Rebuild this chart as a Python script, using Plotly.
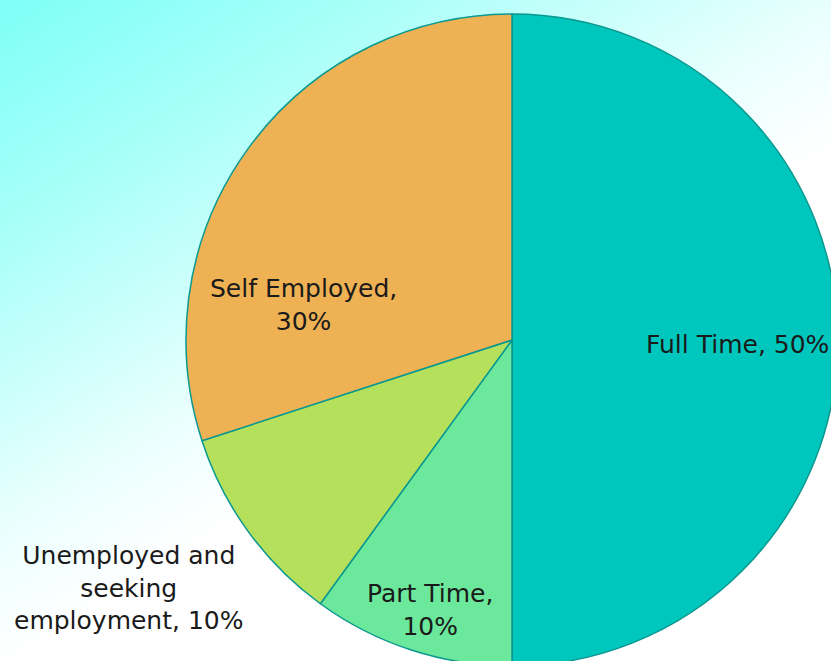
import plotly.graph_objects as go
import base64

# ---- data ----
categories = ["Full Time", "Part Time", "Unemployed and seeking employment", "Self Employed"]
values = [50, 10, 10, 30]
label_lines = [
    ["Full Time, 50%"],
    ["Part Time,", "10%"],
    ["Unemployed and", "seeking", "employment, 10%"],
    ["Self Employed,", "30%"],
]

# ---- styles / layout ----
colors = ["#00C7BD", "#6BE89B", "#B5E05B", "#EEB153"]
border_color = "#0A9890"
W, H = 845, 672          # figure slightly larger than the 831x661 view so the pie is clipped like the original
pie_left, pie_right, pie_top, pie_bottom = 186, 838, 14, 666
label_px = [(737, 345), (430, 610), (128, 588), (303, 305)]

svg = f'''<svg xmlns="http://www.w3.org/2000/svg" width="{W}" height="{H}" viewBox="0 0 {W} {H}">
<defs><linearGradient id="g" gradientUnits="userSpaceOnUse" x1="0" y1="0" x2="300" y2="480">
<stop offset="0" stop-color="#7DFFF7"/>
<stop offset="0.35" stop-color="#A8FFF9"/>
<stop offset="0.6" stop-color="#CCFFFB"/>
<stop offset="0.8" stop-color="#EAFFFE"/>
<stop offset="1" stop-color="#FFFFFF"/>
</linearGradient></defs>
<rect x="0" y="0" width="{W}" height="{H}" fill="url(#g)"/>
</svg>'''
bg_uri = "data:image/svg+xml;base64," + base64.b64encode(svg.encode()).decode()

fig = go.Figure(go.Pie(
    labels=categories,
    values=values,
    sort=False,
    direction="clockwise",
    rotation=0,
    marker=dict(colors=colors, line=dict(color=border_color, width=1.5)),
    textinfo="none",
    hoverinfo="label+percent",
    showlegend=False,
    domain=dict(x=[pie_left / W, pie_right / W], y=[1 - pie_bottom / H, 1 - pie_top / H]),
))

annotations = []
for lines, (px, py) in zip(label_lines, label_px):
    annotations.append(dict(
        text="<br>".join(lines),
        x=px / W, y=1 - py / H, xref="paper", yref="paper",
        xanchor="center", yanchor="middle", showarrow=False,
        font=dict(family="DejaVu Sans, sans-serif", size=25, color="#1A1A1A"),
        align="center",
    ))

fig.update_layout(
    width=W, height=H,
    margin=dict(l=0, r=0, t=0, b=0),
    paper_bgcolor="white",
    plot_bgcolor="white",
    images=[dict(source=bg_uri, xref="paper", yref="paper", x=0, y=1,
                 sizex=1, sizey=1, sizing="stretch", xanchor="left", yanchor="top",
                 layer="below")],
    annotations=annotations,
)

fig.write_html(
    "out.html",
    config={"displayModeBar": False},
    post_script="document.body.style.margin='0';document.body.style.overflow='hidden';",
)
